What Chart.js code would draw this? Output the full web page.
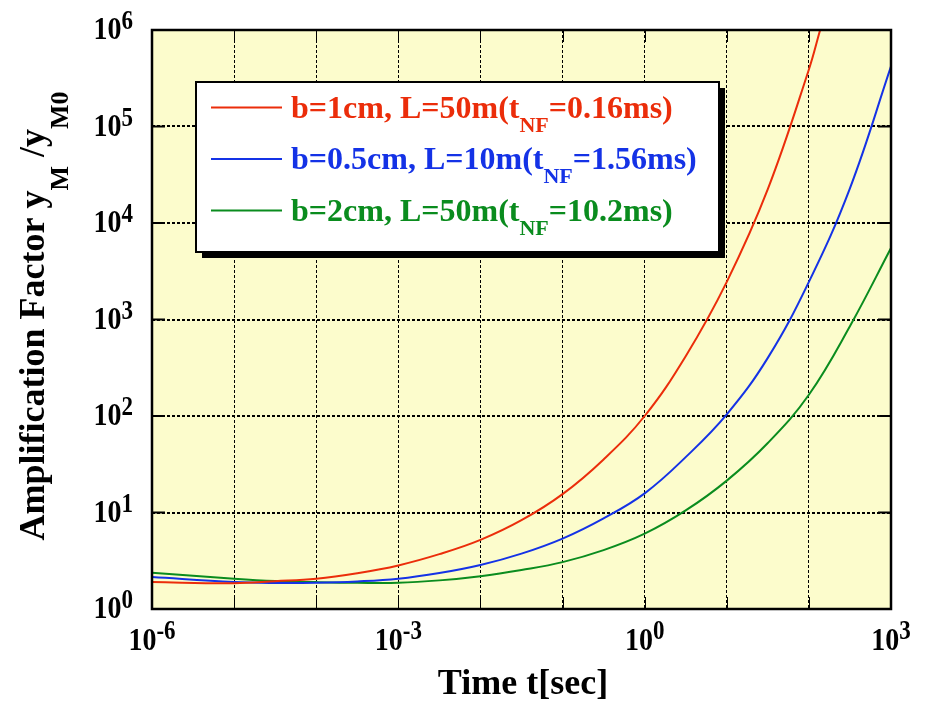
<!DOCTYPE html>
<html>
<head>
<meta charset="utf-8">
<script src="https://cdn.jsdelivr.net/npm/chart.js@4.4.0/dist/chart.umd.min.js"></script>
<style>
  html, body { margin: 0; padding: 0; background: #fff; }
</style>
</head>
<body>
<canvas id="ampChart" width="928" height="701"></canvas>
<script>
// Amplification factor y_M/y_M0 against time, three beam cases
const redTime  = [1e-6, 1e-5, 3.16e-5, 1e-4, 3.16e-4, 1e-3, 3.16e-3, 1e-2, 3.16e-2, 0.1, 0.316, 1, 3.16, 10, 31.6, 100, 137];
const redAmp   = [1.90, 1.85, 1.94, 2.06, 2.35, 2.83, 3.70, 5.20, 8.32, 15.5, 35.5, 100, 417, 2455, 22400, 3.9e5, 1e6];

const blueTime = [1e-6, 1e-5, 3.16e-5, 1e-4, 3.16e-4, 1e-3, 3.16e-3, 1e-2, 3.16e-2, 0.1, 0.316, 1, 3.16, 10, 31.6, 100, 316, 1000];
const blueAmp  = [2.14, 1.90, 1.86, 1.87, 1.93, 2.06, 2.36, 2.86, 3.75, 5.37, 8.7, 15.8, 37.5, 104, 400, 2455, 22900, 4.2e5];

const greenTime = [1e-6, 1e-5, 3.16e-5, 1e-4, 3.16e-4, 1e-3, 3.16e-3, 1e-2, 3.16e-2, 0.1, 0.316, 1, 3.16, 10, 31.6, 100, 316, 1000];
const greenAmp  = [2.37, 2.06, 1.95, 1.90, 1.87, 1.87, 1.98, 2.19, 2.54, 3.06, 4.07, 6.03, 10.5, 21.4, 52.5, 166, 851, 5500];

// legend pieces: b, L, t_NF
const caseB   = ["1", "0.5", "2"];
const caseL   = ["50", "10", "50"];
const caseTnf = ["0.16", "1.56", "10.2"];
const caseColors = ["#EB2D0A", "#1432E6", "#0A8C1E"];

// decade ticks
const xTickExp = [-6, -5, -4, -3, -2, -1, 0, 1, 2, 3];
const xLabelExp = [-6, -3, 0, 3];
const yTickExp = [0, 1, 2, 3, 4, 5, 6];

const FONT = '"Liberation Serif", "Times New Roman", serif';

function toPoints(ts, vs) {
  return ts.map((t, i) => ({ x: t, y: vs[i] }));
}

// draws a run of text pieces [text, size, baselineShift] side by side
function drawParts(ctx, parts, x, y, align, sy) {
  sy = sy || 1;
  let w = 0;
  parts.forEach(p => {
    ctx.font = "bold " + p[1] + "px " + FONT;
    w += ctx.measureText(p[0]).width;
  });
  let cx = align === "center" ? x - w / 2 : (align === "right" ? x - w : x);
  ctx.save();
  ctx.translate(0, y);
  ctx.scale(1, sy);
  ctx.textBaseline = "alphabetic";
  ctx.textAlign = "left";
  parts.forEach(p => {
    ctx.font = "bold " + p[1] + "px " + FONT;
    ctx.fillText(p[0], cx, p[2] / sy);
    cx += ctx.measureText(p[0]).width;
  });
  ctx.restore();
}

const decorPlugin = {
  id: "decor",
  beforeDraw(chart) {
    const { ctx, chartArea: a } = chart;
    ctx.save();
    ctx.fillStyle = "#FCFCCC";
    ctx.fillRect(a.left, a.top, a.right - a.left, a.bottom - a.top);
    ctx.restore();
  },
  afterDraw(chart) {
    const { ctx, chartArea: a } = chart;
    const xs = chart.scales.x, ys = chart.scales.y;
    ctx.save();
    ctx.strokeStyle = "#000";
    ctx.fillStyle = "#000";

    // inward tick marks
    ctx.lineWidth = 1;
    xTickExp.forEach(e => {
      const px = Math.round(xs.getPixelForValue(Math.pow(10, e))) + 0.5;
      ctx.beginPath();
      ctx.moveTo(px, a.bottom); ctx.lineTo(px, a.bottom - 12);
      ctx.moveTo(px, a.top); ctx.lineTo(px, a.top + 12);
      ctx.stroke();
    });
    ctx.lineWidth = 2;
    yTickExp.forEach(e => {
      const py = ys.getPixelForValue(Math.pow(10, e));
      ctx.beginPath();
      ctx.moveTo(a.left, py); ctx.lineTo(a.left + 13, py);
      ctx.moveTo(a.right, py); ctx.lineTo(a.right - 13, py);
      ctx.stroke();
    });

    // frame
    ctx.lineWidth = 2.5;
    ctx.strokeRect(a.left, a.top, a.right - a.left, a.bottom - a.top);

    // tick labels
    xLabelExp.forEach(e => {
      const px = xs.getPixelForValue(Math.pow(10, e));
      drawParts(ctx, [["10", 28, 0], [String(e), 23, -11]], px, 650, "center", 1.15);
    });
    yTickExp.forEach(e => {
      const py = ys.getPixelForValue(Math.pow(10, e));
      drawParts(ctx, [["10", 28, 0], [String(e), 23, -10]], 133, py + 9, "right", 1.15);
    });

    // axis titles
    drawParts(ctx, [["Time t[sec]", 36, 0]], 523, 694, "center");
    ctx.save();
    ctx.translate(44, 316);
    ctx.rotate(-Math.PI / 2);
    drawParts(ctx, [
      ["Amplification Factor y", 36, 0],
      ["M", 26, 24],
      [" /y", 36, 0],
      ["M0", 26, 24]
    ], 0, 0, "center");
    ctx.restore();

    // legend box with drop shadow
    const bx = 196, by = 82, bw = 523, bh = 170;
    ctx.fillStyle = "#000";
    ctx.fillRect(bx + 6, by + 6, bw, bh);
    ctx.fillStyle = "#fff";
    ctx.fillRect(bx, by, bw, bh);
    ctx.lineWidth = 2;
    ctx.strokeStyle = "#000";
    ctx.strokeRect(bx, by, bw, bh);

    const rowY = [107.5, 159, 210.5];
    caseB.forEach((b, i) => {
      ctx.strokeStyle = caseColors[i];
      ctx.lineWidth = 2;
      ctx.beginPath();
      ctx.moveTo(211, rowY[i]); ctx.lineTo(282, rowY[i]);
      ctx.stroke();
      ctx.fillStyle = caseColors[i];
      drawParts(ctx, [
        ["b=" + b + "cm, L=" + caseL[i] + "m(t", 32, 0],
        ["NF", 22, 14],
        ["=" + caseTnf[i] + "ms)", 32, 0]
      ], 291, rowY[i] + 10, "left");
    });
    ctx.restore();
  }
};

const ctx = document.getElementById("ampChart").getContext("2d");

new Chart(ctx, {
  type: "line",
  data: {
    datasets: [
      { label: "b=1cm, L=50m", data: toPoints(redTime, redAmp), borderColor: caseColors[0] },
      { label: "b=0.5cm, L=10m", data: toPoints(blueTime, blueAmp), borderColor: caseColors[1] },
      { label: "b=2cm, L=50m", data: toPoints(greenTime, greenAmp), borderColor: caseColors[2] }
    ]
  },
  options: {
    responsive: false,
    animation: false,
    devicePixelRatio: 1,
    layout: { padding: { left: 152, right: 37, top: 30, bottom: 92 } },
    elements: {
      line: { borderWidth: 2, fill: false, tension: 0.4 },
      point: { radius: 0 }
    },
    plugins: { legend: { display: false }, tooltip: { enabled: false } },
    scales: {
      x: {
        type: "logarithmic",
        min: 1e-6,
        max: 1e3,
        afterBuildTicks: scale => { scale.ticks = xTickExp.map(e => ({ value: Math.pow(10, e) })); },
        afterFit: scale => { scale.height = 0; },
        ticks: { display: false },
        grid: { color: "#000", lineWidth: 1, drawTicks: false },
        border: { display: false, dash: [3, 2] }
      },
      y: {
        type: "logarithmic",
        min: 1,
        max: 1e6,
        afterBuildTicks: scale => { scale.ticks = yTickExp.map(e => ({ value: Math.pow(10, e) })); },
        afterFit: scale => { scale.width = 0; },
        ticks: { display: false },
        grid: { color: "#000", lineWidth: 2, drawTicks: false },
        border: { display: false, dash: [3, 2] }
      }
    }
  },
  plugins: [decorPlugin]
});
</script>
</body>
</html>
